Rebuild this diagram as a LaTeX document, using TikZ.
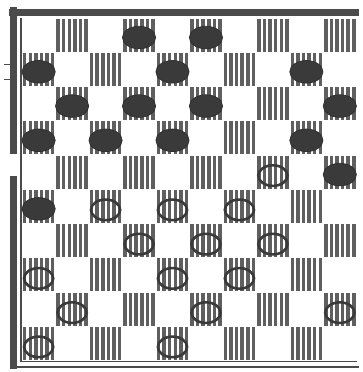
\documentclass[tikz,border=0pt]{standalone}
\usetikzlibrary{shapes.geometric}
\definecolor{inkgray}{RGB}{58,58,58}
\definecolor{hatchgray}{RGB}{95,95,95}
\definecolor{framegray}{RGB}{75,75,75}
\tikzset{
  frame/.style={framegray, line width=6pt},
  thinframe/.style={framegray, line width=1.2pt},
  hatch/.style={hatchgray, line width=3pt},
  blackman/.style={ellipse, fill=inkgray, draw=inkgray!80!black, line width=0.6pt,
                   minimum width=1cm, minimum height=0.68cm, inner sep=0pt},
  whiteman/.style={ellipse, draw=inkgray, line width=2.2pt,
                   minimum width=0.88cm, minimum height=0.62cm, inner sep=0pt},
}

\begin{document}
\begin{tikzpicture}[x=0.03cm, y=-0.03cm]
\fill[white] (0,0) rectangle (360,372);
% dark squares
\foreach \row in {0,...,9}
  \foreach \col in {0,...,9} {
    \ifodd\numexpr\row+\col\relax
      \foreach \k in {0,...,5}
        \draw[hatch] ({22+33.6*\col+2.8+5.6*\k},{18+34.4*\row+0.6}) -- ++(0,33.2);
    \fi
  }
% frame
\draw[frame] (9,12.5) -- (360,12.5);
\draw[frame] (13.5,7) -- (13.5,155);
\draw[frame] (13.5,177) -- (13.5,370);
\draw[thinframe] (21,18) -- (21,363) -- (358,363);
\draw[thinframe, line width=2.4pt] (10,368.5) -- (360,368.5);
\draw[thinframe] (4,65) -- (11,65);
\draw[thinframe] (4,80) -- (11,80);
% men
\foreach \row/\col [count=\i] in {0/3,0/5,1/0,1/4,1/8,2/1,2/3,2/5,2/9,3/0,3/2,3/4,3/8,4/9,5/0}
  \node[blackman] (b\i) at ({22+33.6*(\col+0.5)},{18+34.4*(\row+0.5)+2.5}) {};
\foreach \row/\col [count=\i] in {4/7,5/2,5/4,5/6,6/3,6/5,6/7,7/0,7/4,7/6,8/1,8/5,8/9,9/0,9/4}
  \node[whiteman] (w\i) at ({22+33.6*(\col+0.5)},{18+34.4*(\row+0.5)+3.5}) {};
\end{tikzpicture}
\end{document}
